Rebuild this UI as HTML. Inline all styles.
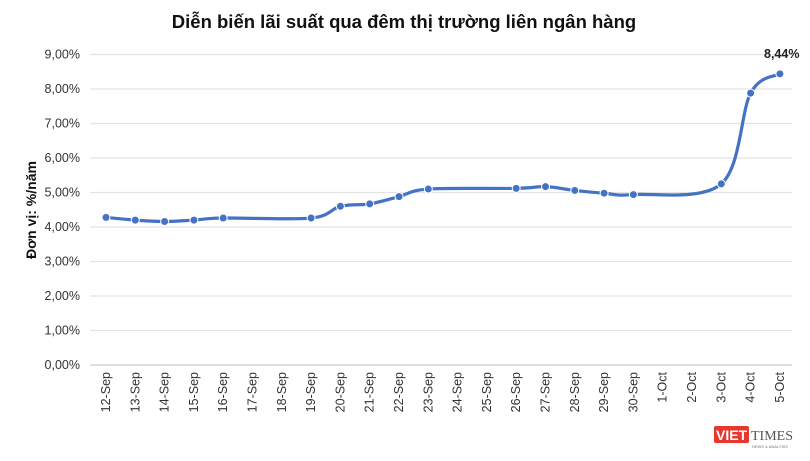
<!DOCTYPE html>
<html><head><meta charset="utf-8"><style>
body{margin:0;background:#fff;width:810px;height:456px;overflow:hidden;font-family:"Liberation Sans",sans-serif}
</style></head><body>
<svg id="s" width="810" height="456" xmlns="http://www.w3.org/2000/svg" font-family="Liberation Sans, sans-serif">
<text x="404" y="28" text-anchor="middle" font-size="18.5" font-weight="bold" fill="#111">Diễn biến lãi suất qua đêm thị trường liên ngân hàng</text>
<g id="grid" stroke="#e3e3e3" stroke-width="1.3"></g>
<g id="yl" font-size="12.5" fill="#333" text-anchor="end"></g>
<text transform="translate(36,210) rotate(-90)" text-anchor="middle" font-size="14" font-weight="bold" fill="#111">Đơn vị: %/năm</text>
<g id="xl" font-size="12.5" fill="#333"></g>
<path id="ln" fill="none" stroke="#4472c4" stroke-width="3.2"/>
<g id="mk" fill="#4472c4" stroke="#fff" stroke-width="1"></g>
<text x="764" y="58" font-size="12.5" font-weight="bold" fill="#222">8,44%</text>
<rect x="714" y="426" width="35" height="17" fill="#e8372c" rx="2"/>
<text x="716" y="440" font-size="14" font-weight="bold" fill="#fff">VIET</text>
<text x="751" y="440" font-size="14" fill="#555" font-family="Liberation Serif, serif">TIMES</text>
<text x="752" y="448" font-size="4" fill="#777">NEWS &amp; ANALYSIS</text>
</svg>
<script>
var ns="http://www.w3.org/2000/svg";
function el(t,a,p,txt){var e=document.createElementNS(ns,t);for(var k in a)e.setAttribute(k,a[k]);if(txt)e.textContent=txt;document.getElementById(p).appendChild(e);}
function Y(v){return 365-34.5*v;}
function X(i){return 106+29.3*i;}
for(var v=0;v<=9;v++){el('line',{x1:90,x2:792,y1:Y(v),y2:Y(v)},'grid');el('text',{x:80,y:Y(v)+4},'yl',v+',00%');}
el('line',{x1:90,x2:792,y1:365,y2:365,stroke:'#d0d0d0'},'grid');
var labs=[];for(var d=12;d<=30;d++)labs.push(d+'-Sep');for(var d=1;d<=5;d++)labs.push(d+'-Oct');
labs.forEach(function(l,i){var x=X(i)+4,y=372;el('text',{x:x,y:y,transform:'rotate(-90 '+x+' '+y+')','text-anchor':'end'},'xl',l);});
var d={0:4.28,1:4.20,2:4.16,3:4.20,4:4.26,7:4.26,8:4.60,9:4.67,10:4.88,11:5.10,14:5.12,15:5.17,16:5.06,17:4.98,18:4.94,21:5.25,22:7.88,23:8.44};
var P=[];for(var k in d)P.push([X(+k),Y(d[k])]);P.sort(function(a,b){return a[0]-b[0]});
var s='M'+P[0][0]+','+P[0][1];
for(var i=0;i<P.length-1;i++){var p0=P[i-1]||P[i],p1=P[i],p2=P[i+1],p3=P[i+2]||p2;
s+=' C'+(p1[0]+(p2[0]-p0[0])/6)+','+(p1[1]+(p2[1]-p0[1])/6)+' '+(p2[0]-(p3[0]-p1[0])/6)+','+(p2[1]-(p3[1]-p1[1])/6)+' '+p2[0]+','+p2[1];}
document.getElementById('ln').setAttribute('d',s);
P.forEach(function(p){el('circle',{cx:p[0],cy:p[1],r:4},'mk');});
</script>
</body></html>
